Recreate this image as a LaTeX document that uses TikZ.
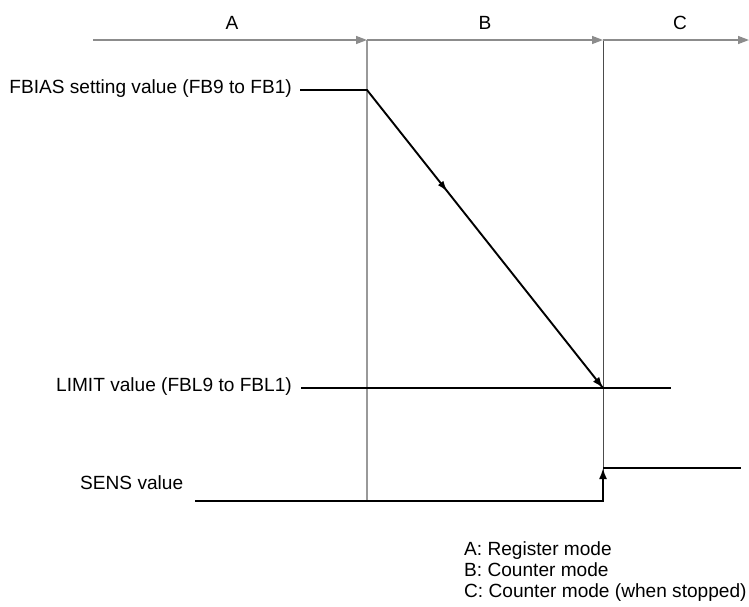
\documentclass[tikz,border=0pt]{standalone}
\usepackage{fontspec}
\setmainfont{Liberation Sans}
\usetikzlibrary{positioning, arrows.meta, calc, decorations.markings}
\def\txtSize{\fontsize{19.1}{21}\selectfont}
\tikzset{
  timeaxis/.style={draw=black!45, line width=1.4pt, -{Triangle[length=11pt,width=8pt]}},
  boundary/.style={draw=black!40, line width=1.4pt},
  boundary2/.style={draw=black!70, line width=0.8pt},
  signal/.style={draw=black, line width=1.9pt},
  sigtip/.style={-{Latex[length=11pt,width=8pt]}},
  lbl/.style={font=\txtSize, inner sep=0pt},
  legendtext/.style={font=\txtSize, align=left, anchor=north west, inner sep=0pt}
}
\begin{document}
\begin{tikzpicture}[x=1pt, y=-1pt]
  \useasboundingbox (0,0) rectangle (749,606);

  % time axis and mode boundaries
  \coordinate (t0) at (93,40);
  \coordinate (tA) at (367,40);
  \coordinate (tB) at (603,40);
  \coordinate (tC) at (749,40);
  \coordinate (bA) at (367,501);
  \coordinate (bB) at (603,501);

  \draw[boundary] (tA) -- (bA);
  \draw[boundary2] (tB) -- (bB);
  \draw[timeaxis] (t0) -- (tA);
  \draw[timeaxis] (tA) -- (tB);
  \draw[timeaxis] (tB) -- (tC);

  \node[lbl] (modeA) at (232,23) {A};
  \node[lbl] (modeB) at (485,23) {B};
  \node[lbl] (modeC) at (680,23) {C};

  % FBIAS -> LIMIT
  \node[lbl, anchor=east] (fbias) at (292,89) {FBIAS setting value (FB9 to FB1)};
  \coordinate (fb0) at (300,90);
  \coordinate (fb1) at (367,90);
  \coordinate (lim) at (603,388);
  \draw[signal, postaction={decorate}, decoration={markings,
      mark=at position 0.44 with {\arrow{Latex[length=11pt,width=7pt]}}}]
    (fb0) -- (fb1) -- (lim);
  \draw[signal, sigtip] ($(fb1)!0.98!(lim)$) -- (lim);

  \node[lbl, anchor=east] (limit) at (292,387) {LIMIT value (FBL9 to FBL1)};
  \coordinate (lim0) at (301,388);
  \coordinate (lim1) at (671,388);
  \draw[signal] (lim0) -- (lim1);

  % SENS
  \node[lbl, anchor=west] (sens) at (80,483) {SENS value};
  \coordinate (s0) at (195,501);
  \coordinate (s2) at (603,468);
  \coordinate (s3) at (741,468);
  \draw[signal, sigtip] (s0) -- (bB) -- (s2);
  \draw[signal] (s2) -- (s3);

  % legend
  \node[legendtext] (legend) at (464,541) {A: Register mode\\B: Counter mode\\C: Counter mode (when stopped)};
\end{tikzpicture}
\end{document}
